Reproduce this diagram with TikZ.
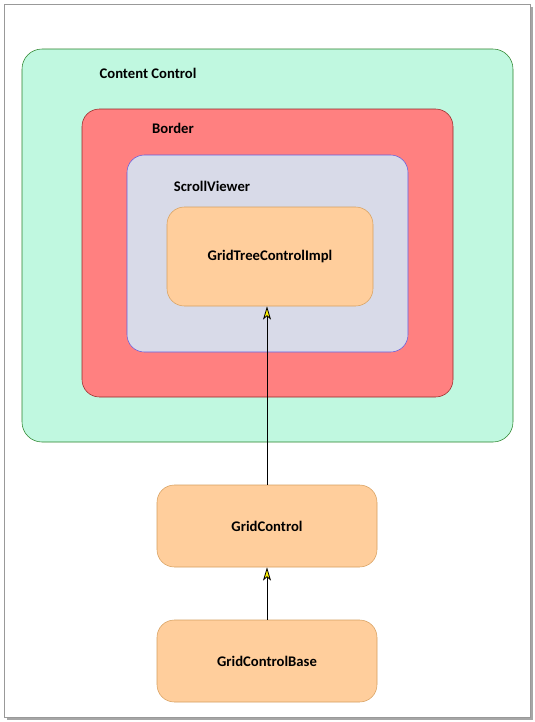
\documentclass[tikz,border=0pt]{standalone}
\usepackage{fontspec}
\setmainfont{Carlito}
\usetikzlibrary{arrows.meta, positioning}

\begin{document}
\begin{tikzpicture}[
  x=0.75pt, y=-0.75pt,
  box/.style={draw, rounded corners=13pt, font=\bfseries\fontsize{11}{13}\selectfont, align=center},
  part/.style={box, fill={rgb,255:red,255;green,206;blue,156}, draw={rgb,255:red,215;green,160;blue,95}, minimum width=165pt, minimum height=61.5pt},
  title/.style={font=\bfseries\fontsize{11}{13}\selectfont},
  arrow/.style={-{Stealth[length=10pt, width=6pt, inset=2.5pt, fill=yellow]}, semithick}
]
\useasboundingbox (0,0) rectangle (535,722);

% page frame with shadow
\fill[black!35] (7,7) rectangle (533,720);
\draw[black!40, fill=white] (4,4) rectangle (530,717);

% nested containers
\node[box, fill={rgb,255:red,192;green,248;blue,224}, draw={rgb,255:red,40;green,130;blue,40},
  minimum width=368.25pt, minimum height=294.75pt, rounded corners=15pt] (content) at (267.5,245.5) {};
\node[title] (contentlbl) at (148,73) {Content Control};

\node[box, fill={rgb,255:red,255;green,128;blue,128}, draw={rgb,255:red,150;green,40;blue,40},
  minimum width=278.25pt, minimum height=216pt] (border) at (267.5,253) {};
\node[title] (borderlbl) at (173,128) {Border};

\node[box, fill={rgb,255:red,216;green,218;blue,232}, draw={rgb,255:red,100;green,90;blue,220},
  minimum width=210.75pt, minimum height=147.75pt] (scroll) at (267.5,253.5) {};
\node[title] (scrolllbl) at (212,186) {ScrollViewer};

% controls
\node[part, minimum width=154.5pt, minimum height=74.25pt] (impl) at (270,256.5) {GridTreeControlImpl};
\node[part] (grid) at (267,526) {GridControl};
\node[part] (base) at (267,661) {GridControlBase};

% inheritance
\draw[arrow] (grid.north) -- (grid.north |- impl.south);
\draw[arrow] (base.north) -- (grid.south);

\end{tikzpicture}
\end{document}
